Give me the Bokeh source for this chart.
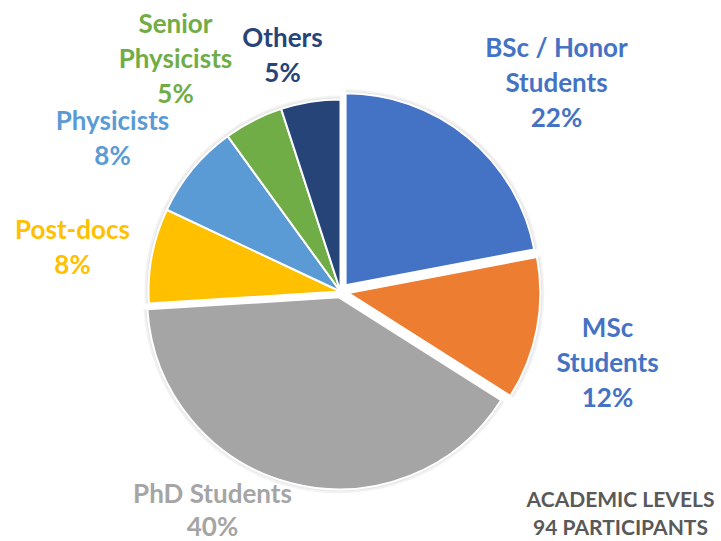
import math
from bokeh.plotting import figure
from bokeh.models import Range1d, ColumnDataSource
from bokeh.embed import file_html
from bokeh.resources import INLINE
from bokeh.core.properties import value

# ---- data ----
categories = ["BSc / Honor\nStudents", "MSc\nStudents", "PhD Students", "Post-docs",
              "Physicists", "Senior\nPhysicists", "Others"]
shares = [22, 12, 40, 8, 8, 5, 5]
title_lines = ["ACADEMIC LEVELS", "94 PARTICIPANTS"]

# ---- style / layout ----
slice_colors = ["#4472C4", "#ED7D31", "#A5A5A5", "#FFC000", "#5B9BD5", "#70AD47", "#264478"]
label_colors = ["#4472C4", "#4472C4", "#A5A5A5", "#FFC000", "#5B9BD5", "#70AD47", "#264478"]
explode = [8, 8, 6, 0, 0, 0, 0]
label_pos = [(556, 81), (607, 361), (212, 509), (72, 246), (112, 137), (175, 57), (282, 54)]
label_spacing = [35, 35, 33, 35, 35, 35, 35]
title_pos = (620, 512)
title_spacing = 28
FONT = "Lato"
W, H = 721, 541
cx, cy, R = 340, 291, 192

def Y(sy):
    return H - sy

p = figure(width=W, height=H, x_range=Range1d(0, W), y_range=Range1d(0, H),
           output_backend="svg", toolbar_location=None, min_border=0,
           x_axis_location=None, y_axis_location=None)
p.grid.visible = False
p.outline_line_color = None
p.background_fill_color = "white"

total = sum(shares)
xs, ys, starts, ends = [], [], [], []
t = 0.0
for s, d in zip(shares, explode):
    t1 = t / total * 2 * math.pi
    t2 = (t + s) / total * 2 * math.pi
    tm = (t1 + t2) / 2
    xs.append(cx + math.sin(tm) * d)
    ys.append(Y(cy) + math.cos(tm) * d)
    starts.append(math.pi / 2 - t2)
    ends.append(math.pi / 2 - t1)
    t += s

src = ColumnDataSource(dict(x=xs, y=ys, start=starts, end=ends, color=slice_colors))
# soft shadow
p.wedge(x="x", y="y", radius=R + 4, start_angle="start", end_angle="end",
        fill_color="black", fill_alpha=0.05, line_color=None, source=src)
p.wedge(x="x", y="y", radius=R + 2, start_angle="start", end_angle="end",
        fill_color="black", fill_alpha=0.05, line_color=None, source=src)
p.wedge(x="x", y="y", radius=R, start_angle="start", end_angle="end",
        fill_color="color", line_color="white", line_width=2, source=src)

# labels, one text item per line
lx, ly, lt, lc = [], [], [], []
for cat, s, (px, py), col, sp in zip(categories, shares, label_pos, label_colors, label_spacing):
    lines = cat.split("\n") + [f"{s}%"]
    n = len(lines)
    for i, line in enumerate(lines):
        lx.append(px)
        ly.append(Y(py + (i - (n - 1) / 2) * sp))
        lt.append(line)
        lc.append(col)
lsrc = ColumnDataSource(dict(x=lx, y=ly, text=lt, color=lc))
p.text(x="x", y="y", text="text", text_color="color", text_align="center",
       text_baseline="middle", text_font=value(FONT), text_font_style="bold",
       text_font_size="26px", source=lsrc)

n = len(title_lines)
p.text(x=[title_pos[0]] * n,
       y=[Y(title_pos[1] + (i - (n - 1) / 2) * title_spacing) for i in range(n)],
       text=title_lines, text_color="#595959", text_align="center", text_baseline="middle",
       text_font=value(FONT), text_font_style="bold", text_font_size="21px")

open("out.html", "w").write(file_html(p, INLINE))
